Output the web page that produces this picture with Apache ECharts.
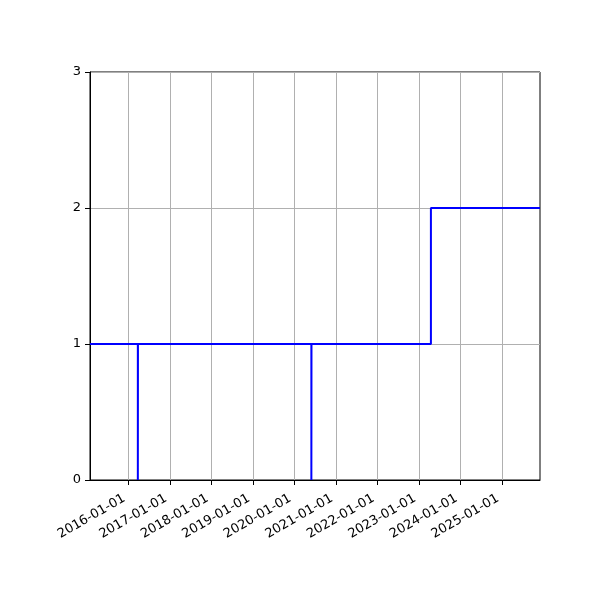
<!DOCTYPE html>
<html>
<head>
<meta charset="utf-8">
<script src="https://cdn.jsdelivr.net/npm/echarts@6/dist/echarts.min.js"></script>
<style>
  html, body { margin: 0; padding: 0; background: #fff; }
  #chart { width: 600px; height: 600px; }
</style>
</head>
<body>
<div id="chart"></div>
<script>
// --- Data ---
const stepDates = ['2015-01-26', '2016-03-22', '2016-03-23', '2020-05-27', '2020-05-28', '2023-04-14', '2025-11-29'];
const stepValues = [1, 0, 1, 0, 1, 2, 2];
const yearTicks = ['2016-01-01', '2017-01-01', '2018-01-01', '2019-01-01', '2020-01-01',
                   '2021-01-01', '2022-01-01', '2023-01-01', '2024-01-01', '2025-01-01'];
const yTicks = [0, 1, 2, 3];

const xMin = '2015-01-26';
const xMax = '2025-11-29';

// date string -> UTC timestamp (x axis is a plain value axis of timestamps)
function ts(s) {
    const p = s.split('-').map(Number);
    return Date.UTC(p[0], p[1] - 1, p[2]);
}
function pad(n) { return (n < 10 ? '0' : '') + n; }
function fmtDate(v) {
    const d = new Date(v);
    return d.getUTCFullYear() + '-' + pad(d.getUTCMonth() + 1) + '-' + pad(d.getUTCDate());
}

const tickValues = yearTicks.map(ts);
const font = 'DejaVu Sans';

const chart = echarts.init(document.getElementById('chart'), null, { renderer: 'canvas' });

const option = {
    animation: false,
    backgroundColor: '#fff',
    grid: { left: 90, right: 60, top: 72, bottom: 120, show: true, borderColor: '#000', borderWidth: 1, backgroundColor: 'transparent' },
    xAxis: {
        type: 'value',
        min: ts(xMin),
        max: ts(xMax),
        axisLine: { lineStyle: { color: '#000', width: 1 } },
        axisTick: { show: true, length: 5, inside: false, lineStyle: { color: '#000' }, customValues: tickValues },
        axisLabel: {
            customValues: tickValues,
            rotate: 30,
            margin: 15,
            padding: [0, 5, 0, 0],
            color: '#000',
            fontFamily: font,
            fontSize: 13,
            formatter: (v) => fmtDate(v),
            showMinLabel: true,
            showMaxLabel: true,
            hideOverlap: false
        },
        splitLine: { show: true, lineStyle: { color: '#b0b0b0', width: 1 } }
    },
    yAxis: {
        type: 'value',
        min: yTicks[0],
        max: yTicks[yTicks.length - 1],
        interval: 1,
        axisLine: { show: true, lineStyle: { color: '#000', width: 1 } },
        axisTick: { show: true, length: 5, lineStyle: { color: '#000' } },
        axisLabel: { color: '#000', fontFamily: font, fontSize: 13, margin: 9 },
        splitLine: { show: true, lineStyle: { color: '#b0b0b0', width: 1 } }
    },
    series: [{
        type: 'line',
        step: 'end',
        data: stepDates.map((d, i) => [ts(d), stepValues[i]]),
        showSymbol: false,
        lineStyle: { color: '#0000ff', width: 2 },
        clip: true
    }]
};

chart.setOption(option);
</script>
</body>
</html>
